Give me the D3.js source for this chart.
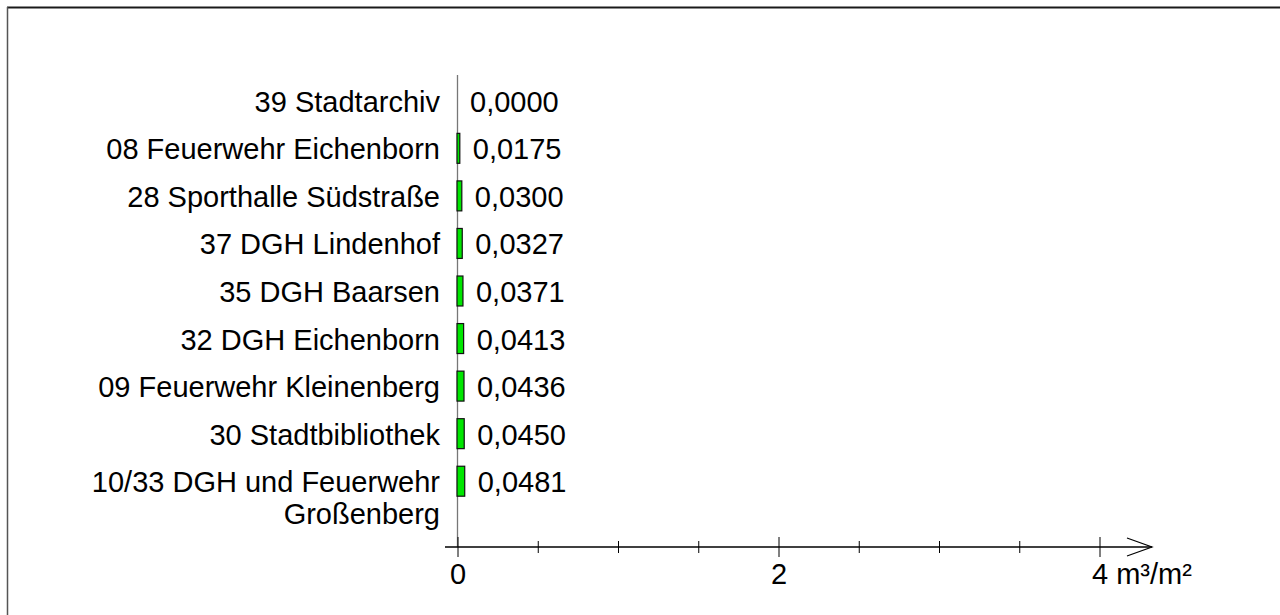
<!DOCTYPE html>
<html>
<head>
<meta charset="utf-8">
<script src="https://cdn.jsdelivr.net/npm/d3@7"></script>
<style>
  html, body { margin: 0; padding: 0; background: #fff; }
  svg { display: block; }
  text { font-family: "Liberation Sans", Arial, sans-serif; fill: #000; }
</style>
</head>
<body>
<svg id="chart" width="1280" height="615"></svg>
<script>
const categories = [
  "39 Stadtarchiv",
  "08 Feuerwehr Eichenborn",
  "28 Sporthalle Südstraße",
  "37 DGH Lindenhof",
  "35 DGH Baarsen",
  "32 DGH Eichenborn",
  "09 Feuerwehr Kleinenberg",
  "30 Stadtbibliothek",
  "10/33 DGH und Feuerwehr|Großenberg"
];
const values = [0.0000, 0.0175, 0.0300, 0.0327, 0.0371, 0.0413, 0.0436, 0.0450, 0.0481];
const tickValues = [0, 0.5, 1, 1.5, 2, 2.5, 3, 3.5, 4];
const tickLabels = [
  { v: 0, label: "0", unit: "" },
  { v: 2, label: "2", unit: "" },
  { v: 4, label: "4", unit: " m³/m²" }
];

const svg = d3.select("#chart");
const fontSize = 29;

const x = d3.scaleLinear().domain([0, 4]).range([458, 1100]);
const y = d3.scaleBand().domain(categories).range([77, 505])
  .paddingInner(0.37).paddingOuter(0.185);
const axisY = 547;

// frame
svg.append("line").attr("x1", 7).attr("x2", 1280).attr("y1", 7.5).attr("y2", 7.5)
  .attr("stroke", "#1a1a1a").attr("stroke-width", 2);
svg.append("line").attr("x1", 7.5).attr("x2", 7.5).attr("y1", 7).attr("y2", 615)
  .attr("stroke", "#555").attr("stroke-width", 1.5);

// vertical baseline
svg.append("line").attr("x1", x(0) - 0.5).attr("x2", x(0) - 0.5)
  .attr("y1", 75).attr("y2", axisY)
  .attr("stroke", "#777").attr("stroke-width", 1.3);

// bars
svg.selectAll("rect.bar").data(values).enter().append("rect")
  .attr("class", "bar")
  .attr("x", x(0) - 1)
  .attr("y", (d, i) => y(categories[i]))
  .attr("width", d => Math.max(0, x(d) - x(0)))
  .attr("height", y.bandwidth())
  .attr("fill", "#00e600")
  .attr("stroke", "#111")
  .attr("stroke-width", 1.2)
  .style("display", d => d > 0 ? null : "none");

// category labels
const fmt = v => d3.format(".4f")(v).replace(".", ",");
categories.forEach((c, i) => {
  const cy = y(c) + y.bandwidth() / 2;
  const t = svg.append("text").attr("text-anchor", "end")
    .attr("font-size", fontSize).attr("x", 440).attr("y", cy + 11);
  c.split("|").forEach((line, j) => {
    t.append("tspan").attr("x", 440).attr("dy", j === 0 ? 0 : 32).text(line);
  });
  svg.append("text").attr("font-size", fontSize)
    .attr("x", x(values[i]) + 12).attr("y", cy + 11)
    .text(fmt(values[i]));
});

// x axis
svg.append("line").attr("x1", 445).attr("x2", 1152).attr("y1", axisY).attr("y2", axisY)
  .attr("stroke", "#000").attr("stroke-width", 1.3);
svg.selectAll("line.tick").data(tickValues).enter().append("line")
  .attr("class", "tick")
  .attr("x1", d => x(d)).attr("x2", d => x(d))
  .attr("y1", d => axisY - (d % 2 === 0 ? 10 : 6))
  .attr("y2", d => axisY + (d % 2 === 0 ? 10 : 6))
  .attr("stroke", "#000").attr("stroke-width", 1);
// arrow head
svg.append("path")
  .attr("d", `M1127,538 L1152,${axisY} L1127,556`)
  .attr("fill", "none").attr("stroke", "#000").attr("stroke-width", 1.2);

// tick labels
tickLabels.forEach(t => {
  const g = svg.append("text").attr("font-size", fontSize).attr("y", 584);
  if (t.unit) {
    g.attr("x", x(t.v) - 8).attr("text-anchor", "start").text(t.label + t.unit);
  } else {
    g.attr("x", x(t.v)).attr("text-anchor", "middle").text(t.label);
  }
});
</script>
</body>
</html>
